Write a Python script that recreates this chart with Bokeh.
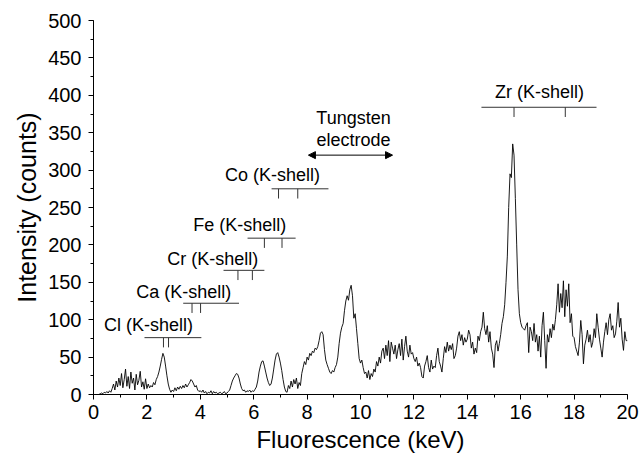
import numpy as np
from bokeh.plotting import figure
from bokeh.models import Range1d, SingleIntervalTicker, Arrow, NormalHead
from bokeh.core.properties import value
from bokeh.embed import file_html
from bokeh.resources import INLINE

# ---- spectrum data (0.05 keV channels, 0 .. 20 keV) ----
step_kev = 0.05
counts = [
    0, 0, 0, 0, 0, 1, 2, 1, 3, 2, 4, 2, 5, 3, 8, 14, 6, 18, 10, 22,
    12, 28, 9, 20, 34, 11, 24, 8, 30, 15, 22, 6, 27, 13, 19, 31, 10, 17, 7, 21,
    8, 14, 9, 12, 10, 16, 13, 20, 24, 30, 38, 47, 55, 50, 38, 25, 14, 7, 3, 6,
    4, 9, 5, 10, 7, 11, 8, 12, 9, 14, 10, 13, 16, 20, 18, 14, 10, 12, 6, 4,
    5, 3, 6, 2, 4, 1, 3, 2, 5, 1, 4, 2, 3, 1, 2, 3, 1, 2, 4, 1,
    2, 4, 6, 12, 18, 22, 25, 28, 27, 22, 14, 8, 5, 6, 3, 5, 4, 6, 3, 5,
    4, 7, 10, 18, 30, 38, 44, 45, 38, 30, 22, 16, 12, 14, 22, 34, 46, 54, 56, 50,
    42, 32, 20, 10, 4, 3, 12, 8, 18, 10, 20, 14, 22, 8, 16, 12, 28, 36, 44, 40,
    50, 46, 55, 52, 58, 56, 62, 60, 64, 72, 82, 84, 80, 60, 46, 40, 35, 30, 28, 32,
    30, 36, 40, 50, 68, 82, 90, 95, 112, 125, 132, 126, 140, 146, 132, 102, 108, 88, 68, 48,
    42, 46, 36, 28, 30, 22, 32, 20, 28, 24, 34, 30, 44, 38, 50, 42, 58, 62, 48, 66,
    52, 72, 44, 70, 62, 54, 66, 48, 60, 68, 52, 74, 46, 64, 78, 58, 50, 66, 54, 56,
    48, 44, 50, 38, 42, 36, 24, 22, 38, 44, 52, 36, 30, 46, 34, 38, 36, 52, 62, 44,
    38, 30, 48, 64, 56, 70, 58, 66, 60, 68, 48, 52, 62, 78, 84, 72, 80, 66, 76, 70,
    74, 86, 80, 62, 70, 54, 62, 56, 78, 72, 84, 90, 110, 88, 80, 92, 70, 84, 62, 54,
    36, 66, 72, 58, 68, 80, 95, 104, 120, 150, 185, 250, 295, 290, 335, 320, 262, 200, 140, 108,
    96, 90, 88, 86, 92, 96, 56, 90, 84, 72, 95, 70, 80, 58, 78, 50, 92, 110, 72, 35,
    80, 70, 88, 76, 94, 86, 100, 120, 148, 110, 135, 116, 152, 104, 140, 118, 148, 96, 108, 78,
    76, 64, 58, 52, 70, 99, 80, 41, 66, 74, 86, 70, 80, 63, 70, 88, 76, 108, 90, 74,
    62, 50, 70, 84, 96, 80, 100, 108, 86, 92, 76, 81, 98, 123, 90, 102, 74, 59, 84, 72,
    72,
]
energy = np.arange(len(counts)) * step_kev

# ---- element line annotations ----
elements = ["Cl", "Ca", "Cr", "Fe", "Co", "Zr"]
bar_start = [1.91, 3.36, 4.87, 5.77, 6.67, 14.53]
bar_end = [4.04, 5.45, 6.40, 7.57, 8.80, 18.84]
bar_level = [76, 122, 166, 209, 275, 384]
line_alpha_kev = [2.62, 3.69, 5.41, 6.40, 6.93, 15.75]
line_beta_kev = [2.81, 4.01, 5.95, 7.06, 7.65, 17.67]
label_x = [2.06, 3.38, 4.47, 5.48, 6.70, 16.70]
label_y = [93, 137, 181, 227, 294, 404]

tungsten_from, tungsten_to, tungsten_level = 8.05, 11.2, 320

FONT = "Liberation Sans"

p = figure(width=639, height=455, output_backend="svg", toolbar_location=None,
           x_range=Range1d(0, 20), y_range=Range1d(0, 500),
           min_border_left=93, min_border_right=12, min_border_top=20, min_border_bottom=61)
p.outline_line_color = None
p.xgrid.visible = False
p.ygrid.visible = False
p.background_fill_color = "white"

p.line(energy, counts, line_color="black", line_width=0.9)

# annotation bars
p.segment(x0=bar_start, y0=bar_level, x1=bar_end, y1=bar_level, line_color="#333333", line_width=1)
tick_len = 13
tx = line_alpha_kev + line_beta_kev
ty = bar_level + bar_level
p.segment(x0=tx, y0=ty, x1=tx, y1=[v - tick_len for v in ty], line_color="#333333", line_width=1)

labels = [f"{e} (K-shell)" for e in elements]
p.text(x=label_x, y=label_y, text=labels, text_font=value(FONT), text_font_size="18px",
       text_align="center", text_baseline="middle", text_color="black")

# tungsten electrode
p.add_layout(Arrow(start=NormalHead(size=7, fill_color="black", line_color="black"),
                   end=NormalHead(size=7, fill_color="black", line_color="black"),
                   x_start=tungsten_from, y_start=tungsten_level,
                   x_end=tungsten_to, y_end=tungsten_level, line_color="black", line_width=1))
p.text(x=[9.74, 9.74], y=[369, 340], text=["Tungsten", "electrode"], text_font=value(FONT),
       text_font_size="18px", text_align="center", text_baseline="middle", text_color="black")

# axes
p.xaxis.ticker = SingleIntervalTicker(interval=2, num_minor_ticks=2)
p.yaxis.ticker = SingleIntervalTicker(interval=50, num_minor_ticks=2)
p.xaxis.axis_label = "Fluorescence (keV)"
p.yaxis.axis_label = "Intensity (counts)"
for ax in (p.xaxis[0], p.yaxis[0]):
    ax.axis_label_text_font = FONT
    ax.axis_label_text_font_style = "normal"
    ax.axis_label_text_color = "black"
    ax.major_label_text_font = FONT
    ax.major_label_text_font_size = "20px"
    ax.major_label_text_color = "black"
    ax.axis_line_color = "black"
    ax.major_tick_line_color = "black"
    ax.minor_tick_line_color = "black"
    ax.major_tick_in = 0
    ax.major_tick_out = 5
    ax.minor_tick_in = 0
    ax.minor_tick_out = 3
p.xaxis.axis_label_text_font_size = "24px"
p.yaxis.axis_label_text_font_size = "25px"
p.xaxis.major_label_standoff = 5
p.xaxis.axis_label_standoff = 4
p.yaxis.major_label_standoff = 7
p.yaxis.axis_label_standoff = 4

open("out.html", "w").write(file_html(p, INLINE))
